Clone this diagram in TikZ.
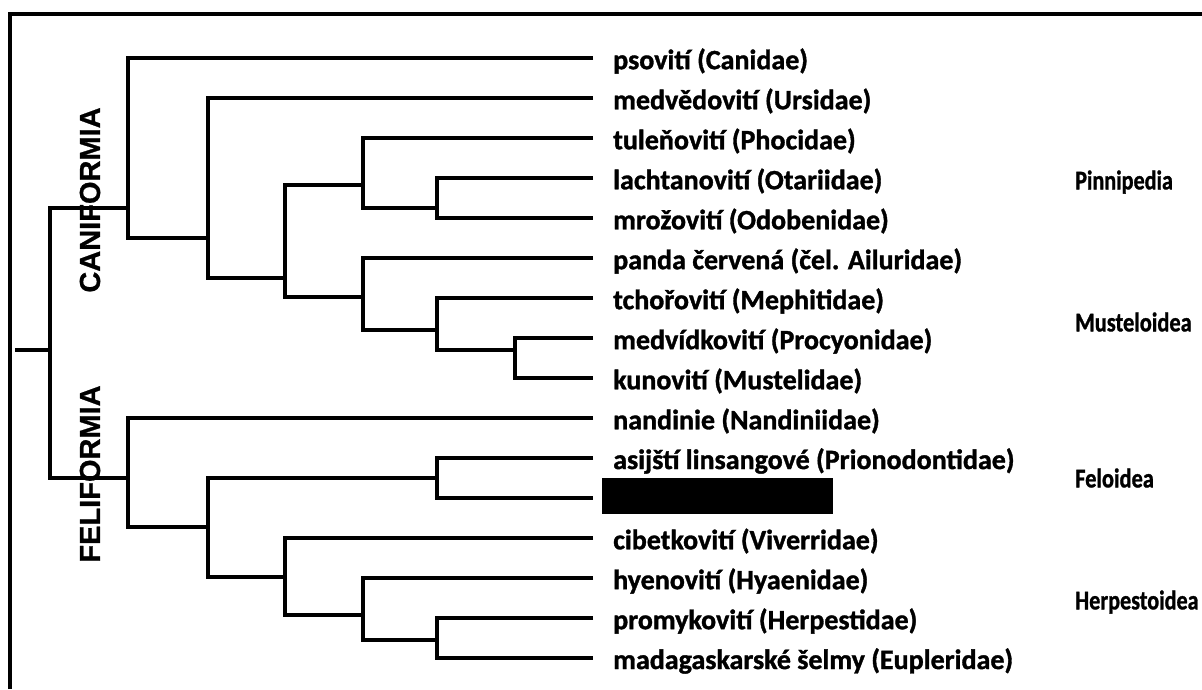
\documentclass[tikz,border=0pt]{standalone}
\usepackage{fontspec}
\setmainfont{Carlito}[BoldFeatures={FakeBold=1.2}]
\newfontfamily\cladefont{Liberation Sans}[BoldFeatures={FakeBold=0.8}]
\tikzset{
  br/.style={line width=3.8pt, line join=miter, line cap=butt},
  leaf/.style={anchor=west, inner sep=0pt, font=\bfseries\fontsize{28}{28}\selectfont},
  grp/.style={anchor=west, inner sep=0pt, font=\bfseries\fontsize{27}{27}\selectfont},
  clade/.style={rotate=90, inner sep=0pt, font=\cladefont\bfseries\fontsize{29}{29}\selectfont},
}
\begin{document}
\begin{tikzpicture}[x=1pt,y=-1pt]
\useasboundingbox (0,0) rectangle (1202,689);
% frame (top and left edges visible)
\draw[line width=4.5pt] (10,689) -- (10,14) -- (1202,14);

% leaf line ends
\foreach \i/\y in {1/58,2/98,3/138,4/178,5/218,6/258,7/298,8/338,9/378,10/418,11/458,12/498,13/538,14/578,15/618,16/658}
  \coordinate (e\i) at (593,\y);

% leaf labels
\node[leaf] (l1)  at (613,61)  {psovití (Canidae)};
\node[leaf] (l2)  at (613,101) {medvědovití (Ursidae)};
\node[leaf] (l3)  at (613,141) {tuleňovití (Phocidae)};
\node[leaf] (l4)  at (613,181) {lachtanovití (Otariidae)};
\node[leaf] (l5)  at (613,221) {mrožovití (Odobenidae)};
\node[leaf] (l6)  at (613,261) {panda červená (čel. Ailuridae)};
\node[leaf] (l7)  at (613,301) {tchořovití (Mephitidae)};
\node[leaf] (l8)  at (613,341) {medvídkovití (Procyonidae)};
\node[leaf] (l9)  at (613,381) {kunovití (Mustelidae)};
\node[leaf] (l10) at (613,421) {nandinie (Nandiniidae)};
\node[leaf] (l11) at (613,461) {asijští linsangové (Prionodontidae)};
\node[draw=black, fill=black, minimum width=230pt, minimum height=35pt, inner sep=0pt] (l12) at (717,496) {};
\node[leaf] (l13) at (613,541) {cibetkovití (Viverridae)};
\node[leaf] (l14) at (613,581) {hyenovití (Hyaenidae)};
\node[leaf] (l15) at (613,621) {promykovití (Herpestidae)};
\node[leaf] (l16) at (613,661) {madagaskarské šelmy (Eupleridae)};

% group labels
\node[grp] (pin) at (1075,182) {\scalebox{0.82}[1]{Pinnipedia}};
\node[grp] (mus) at (1075,322) {\scalebox{0.83}[1]{Musteloidea}};
\node[grp] (fel) at (1075,478) {\scalebox{0.83}[1]{Feloidea}};
\node[grp] (her) at (1075,602) {\scalebox{0.82}[1]{Herpestoidea}};

% clade labels
\node[clade] (can) at (90,200) {CANIFORMIA};
\node[clade] (fef) at (90,474) {FELIFORMIA};

% root
\coordinate (root) at (15,350);
\draw[br] (root) -- (50,350);
\draw[br] (128,208) -- (50,208) -- (50,478) -- (128,478);

% Caniformia
\draw[br] (e1) -- (128,58) -- (128,238) -- (208,238);
\draw[br] (e2) -- (208,98) -- (208,278) -- (285,278);
\draw[br] (363,185) -- (285,185) -- (285,297) -- (363,297);
\draw[br] (e3) -- (363,138) -- (363,208) -- (437,208);
\draw[br] (e4) -- (437,178) -- (437,218) -- (e5);
\draw[br] (e6) -- (363,258) -- (363,330) -- (437,330);
\draw[br] (e7) -- (437,298) -- (437,350) -- (515,350);
\draw[br] (e8) -- (515,338) -- (515,378) -- (e9);

% Feliformia
\draw[br] (e10) -- (128,418) -- (128,527) -- (208,527);
\draw[br] (437,478) -- (208,478) -- (208,577) -- (285,577);
\draw[br] (e11) -- (437,458) -- (437,498) -- (e12);
\draw[br] (e13) -- (285,538) -- (285,615) -- (363,615);
\draw[br] (e14) -- (363,578) -- (363,640) -- (437,640);
\draw[br] (e15) -- (437,618) -- (437,658) -- (e16);
\end{tikzpicture}
\end{document}
